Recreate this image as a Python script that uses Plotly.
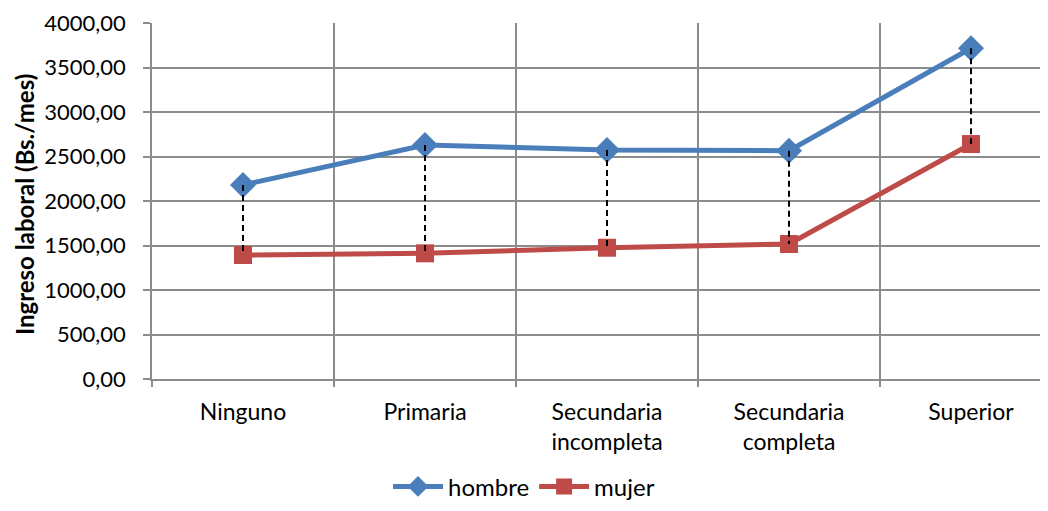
import plotly.graph_objects as go

categories = ["Ninguno", "Primaria", "Secundaria<br>incompleta", "Secundaria<br>completa", "Superior"]
hombre = [2180, 2629, 2573, 2565, 3716]
mujer = [1393, 1412, 1475, 1517, 2640]
y_ticks = [0, 500, 1000, 1500, 2000, 2500, 3000, 3500, 4000]

BLUE = "#4a7ebb"
RED = "#be4b48"
GRID = "#8c8c8c"
FONT = "Lato, Open Sans, sans-serif"

fig = go.Figure()
fig.add_trace(go.Scatter(x=categories, y=hombre, name="hombre", mode="lines+markers",
                         line=dict(color=BLUE, width=5),
                         marker=dict(symbol="diamond", size=20, color=BLUE)))
fig.add_trace(go.Scatter(x=categories, y=mujer, name="mujer", mode="lines+markers",
                         line=dict(color=RED, width=5),
                         marker=dict(symbol="square", size=18, color=RED)))
for c, h, m in zip(categories, hombre, mujer):
    fig.add_trace(go.Scatter(x=[c, c], y=[h, m], mode="lines", showlegend=False,
                             hoverinfo="skip",
                             line=dict(color="black", width=2, dash="6px,4px")))

fig.update_layout(
    width=1032, height=495,
    margin=dict(l=144, r=0, t=15, b=124, autoexpand=False),
    paper_bgcolor="white", plot_bgcolor="white",
    separators=",.",
    font=dict(family=FONT, size=22, color="black"),
    showlegend=True,
    legend=dict(orientation="h", xref="container", x=0.5, xanchor="center",
                y=-0.303, yanchor="middle",
                font=dict(size=24), traceorder="normal", itemwidth=50),
    annotations=[dict(text="<b>Ingreso laboral (Bs./mes)</b>", xref="paper", yref="paper",
                      x=0, y=0.5, xshift=-128, yshift=-4, textangle=-90, showarrow=False,
                      xanchor="center", yanchor="middle", font=dict(size=24))],
)
fig.update_xaxes(type="category", categoryorder="array", categoryarray=categories,
                 range=[-0.5, 4.379], tickson="boundaries", automargin=False,
                 showgrid=True, gridcolor=GRID, gridwidth=1.5,
                 showline=True, linecolor=GRID, linewidth=1.5,
                 ticks="outside", ticklen=6, tickcolor=GRID, tickwidth=1.5,
                 ticklabelstandoff=12,
                 tickfont=dict(size=23), zeroline=False)
fig.update_yaxes(range=[0, 4000], tickvals=y_ticks, tickformat=".2f", automargin=False,
                 showgrid=True, gridcolor=GRID, gridwidth=1.5,
                 showline=True, linecolor=GRID, linewidth=1.5,
                 ticks="outside", ticklen=7, tickcolor=GRID, tickwidth=1.5,
                 ticklabelstandoff=13,
                 zeroline=False, tickfont=dict(size=22))

fig.write_html("out.html")
